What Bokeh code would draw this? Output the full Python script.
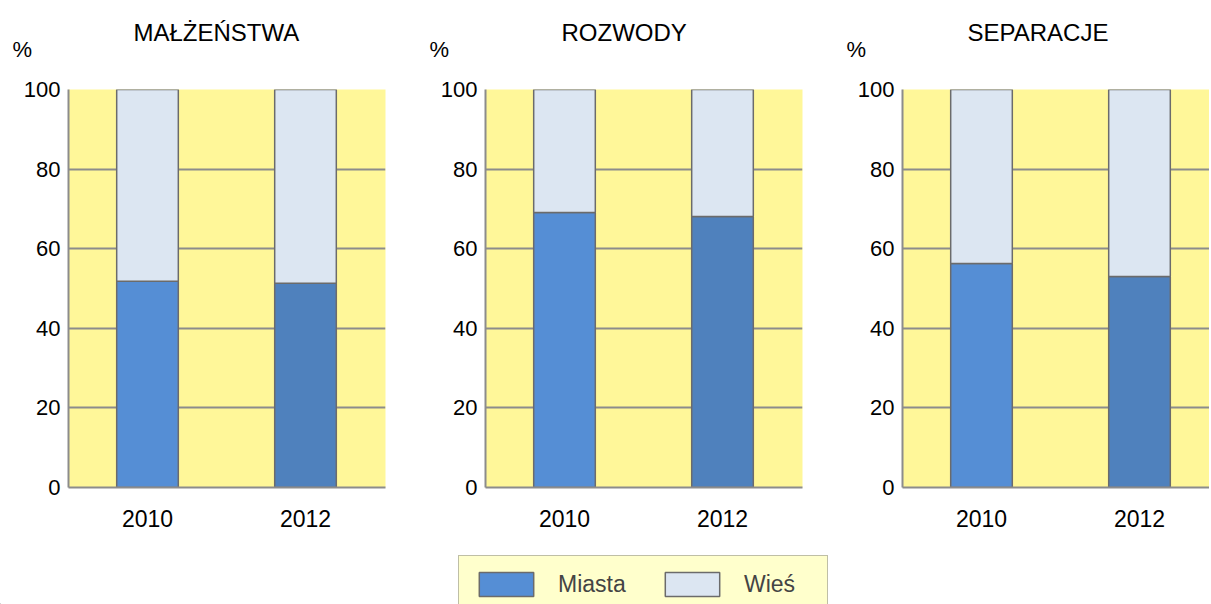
from bokeh.plotting import figure
from bokeh.models import ColumnDataSource, Range1d, FixedTicker, Title, Legend, LegendItem
from bokeh.layouts import row, column
from bokeh.embed import file_html
from bokeh.resources import INLINE

# ---- data ----
years = ["2010", "2012"]
panel_titles = ["MAŁŻEŃSTWA", "ROZWODY", "SEPARACJE"]
malzenstwa_miasta = [51.8, 51.3]
malzenstwa_wies = [48.2, 48.7]
rozwody_miasta = [69.1, 68.1]
rozwody_wies = [30.9, 31.9]
separacje_miasta = [56.3, 53.0]
separacje_wies = [43.7, 47.0]
y_ticks = [0, 20, 40, 60, 80, 100]
series_names = ["Miasta", "Wieś"]

# ---- styles ----
FONT = "Liberation Sans"
YELLOW = "#FFF799"
MIASTA_COLORS = ["#558ED5", "#4F81BD"]
WIES_COLOR = "#DCE6F2"
GRID = "#8C8C8C"
OUTLINE = "#6B6B6B"

panels = [
    (panel_titles[0], malzenstwa_miasta, malzenstwa_wies),
    (panel_titles[1], rozwody_miasta, rozwody_wies),
    (panel_titles[2], separacje_miasta, separacje_wies),
]

# layout geometry (px)
widths = [420, 417, 372]
left_borders = [68, 65, 65]
right_borders = [35, 35, 0]
title_offsets = [65, 76, 65]
unit_px = 158.0
H = 545
TOP = 89
BOTTOM = 58

figs = []
sources = []
for i, (ttl, miasta, wies) in enumerate(panels):
    frame_w = widths[i] - left_borders[i] - right_borders[i]
    pos = [k + 0.5 for k in range(len(years))]
    src = ColumnDataSource(dict(
        x=pos,
        m_top=miasta,
        w_bottom=miasta,
        w_top=[a + b for a, b in zip(miasta, wies)],
        mcol=MIASTA_COLORS[:len(years)],
    ))
    sources.append(src)
    p = figure(width=widths[i], height=H, output_backend="svg", toolbar_location=None,
               x_range=Range1d(0, frame_w / unit_px), y_range=Range1d(0, 100),
               min_border_left=left_borders[i], min_border_right=right_borders[i],
               min_border_top=TOP, min_border_bottom=BOTTOM)
    p.background_fill_color = YELLOW
    p.border_fill_color = "white"
    p.outline_line_color = None

    p.vbar(x="x", width=0.39, bottom=0, top="m_top", source=src,
           fill_color="mcol", line_color=OUTLINE, line_width=1.5)
    p.vbar(x="x", width=0.39, bottom="w_bottom", top="w_top", source=src,
           fill_color=WIES_COLOR, line_color=OUTLINE, line_width=1.5)

    # axes
    p.yaxis.ticker = FixedTicker(ticks=y_ticks)
    p.ygrid.ticker = FixedTicker(ticks=y_ticks)
    p.xaxis.ticker = FixedTicker(ticks=pos)
    p.xaxis.major_label_overrides = {pv: yr for pv, yr in zip(pos, years)}
    for ax in (p.xaxis, p.yaxis):
        ax.axis_line_color = GRID
        ax.axis_line_width = 2
        ax.major_tick_line_color = None
        ax.minor_tick_line_color = None
        ax.major_tick_out = 0
        ax.minor_tick_out = 0
        ax.major_tick_in = 0
        ax.major_label_text_font = FONT
        ax.major_label_text_color = "black"
    p.yaxis.major_label_text_font_size = "22px"
    p.xaxis.major_label_text_font_size = "23px"
    p.yaxis.major_label_standoff = 8
    p.xaxis.major_label_standoff = 22
    p.xgrid.grid_line_color = None
    p.ygrid.grid_line_color = GRID
    p.ygrid.grid_line_width = 2

    # titles: "%" nearest the frame, main title above it
    pct = Title(text="%", align="left", offset=-56, standoff=56,
                text_font=FONT, text_font_size="22px", text_font_style="normal",
                text_color="black")
    p.add_layout(pct, "above")
    main = Title(text=ttl, align="left", offset=title_offsets[i], standoff=-78,
                 text_font=FONT, text_font_size="24px", text_font_style="normal",
                 text_color="black")
    p.add_layout(main, "above")
    figs.append(p)

# ---- legend strip (own figure; its bars lie far outside its view) ----
lf = figure(width=sum(widths), height=604 - H, output_backend="svg", toolbar_location=None,
            x_range=Range1d(100, 101), y_range=Range1d(1000, 1100),
            x_axis_location=None, y_axis_location=None,
            min_border_left=0, min_border_right=0, min_border_top=0, min_border_bottom=0)
lf.grid.visible = False
lf.outline_line_color = None
lf.background_fill_color = "white"
lf.border_fill_color = "white"
lr_m = lf.vbar(x="x", width=0.39, bottom=0, top="m_top", source=sources[1],
               fill_color="mcol", line_color=OUTLINE, line_width=1.5)
lr_w = lf.vbar(x="x", width=0.39, bottom="w_bottom", top="w_top", source=sources[1],
               fill_color=WIES_COLOR, line_color=OUTLINE, line_width=1.5)
legend = Legend(items=[
    LegendItem(label=series_names[0], renderers=[lr_m], index=0),
    LegendItem(label=series_names[1], renderers=[lr_w], index=0),
], orientation="horizontal", location=(458, -9))
legend.glyph_width = 68
legend.glyph_height = 30
legend.label_standoff = 18
legend.label_width = 70
legend.spacing = 30
legend.padding = 13
legend.margin = 0
legend.label_text_font = FONT
legend.label_text_font_size = "23px"
legend.background_fill_color = "#FFFFCC"
legend.background_fill_alpha = 1.0
legend.border_line_color = "#7F7F7F"
legend.border_line_width = 1.5
lf.add_layout(legend, "center")

layout = column(row(*figs), lf)
open("out.html", "w").write(file_html(layout, INLINE))
